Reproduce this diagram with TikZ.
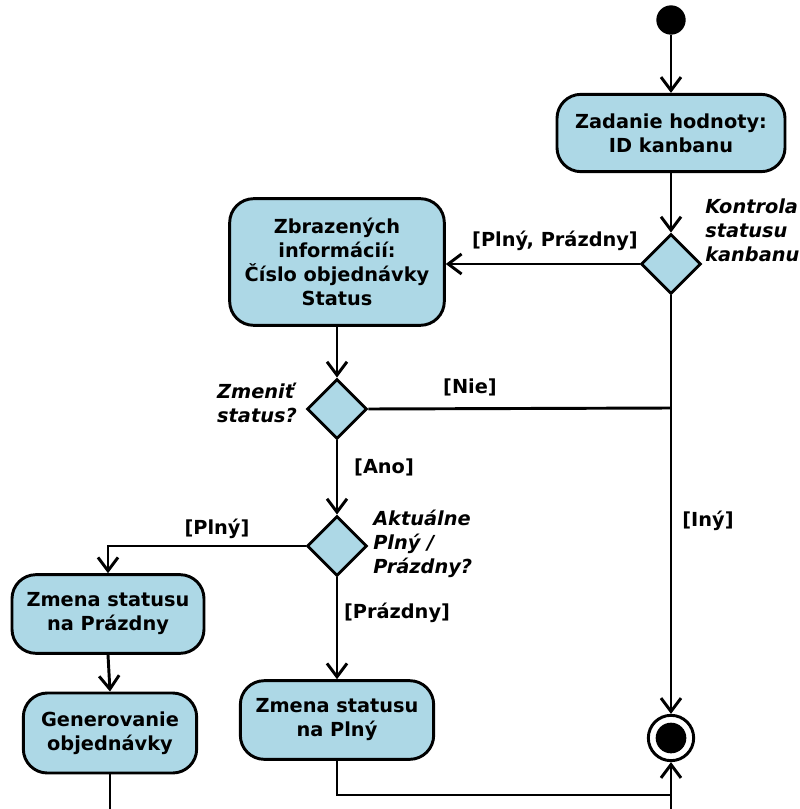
\documentclass[tikz,border=0pt]{standalone}
\usepackage{fontspec}
\setmainfont{DejaVu Sans}
\usetikzlibrary{positioning,calc,arrows.meta,shapes.geometric}
\tikzset{>={Straight Barb[length=10pt,width=15pt]}}
\definecolor{actblue}{RGB}{173,216,230}
\tikzset{
  activity/.style={draw,fill=actblue,line width=2.2pt,rounded corners=18pt,align=center,
    font=\fontsize{14.5}{18}\selectfont\bfseries,inner sep=0pt},
  decision/.style={draw,fill=actblue,line width=2.2pt,diamond,minimum width=45pt,
    minimum height=45pt,inner sep=0pt},
  guard/.style={font=\fontsize{14.5}{18}\selectfont\bfseries,inner sep=0pt},
  question/.style={font=\fontsize{14.5}{18}\selectfont\bfseries\itshape,inner sep=0pt},
  flow/.style={line width=2.2pt}
}

\begin{document}
\begin{tikzpicture}[x=0.75pt,y=-0.75pt]
\useasboundingbox (0,0) rectangle (799,809);
\clip (0,0) rectangle (799,809);
% Pixel grid, y downwards

% Start and end
\node [circle,fill=black,minimum size=22pt,inner sep=0pt] (start) at (671,20) {};
\node [circle,draw,fill=white,line width=2.2pt,minimum size=34pt,inner sep=0pt] (end) at (671,738) {};
\fill (end) circle (11.5pt);

% Activities
\node [activity,minimum width=171pt,minimum height=58pt] (zadanie) at (671,133)
  {Zadanie hodnoty:\\ ID kanbanu};
\node [activity,minimum width=161pt,minimum height=95pt] (info) at (337,262)
  {Zbrazených\\ informácií:\\ Číslo objednávky\\ Status};
\node [activity,minimum width=144pt,minimum height=59pt] (prazdny) at (108,614)
  {Zmena statusu\\ na Prázdny};
\node [activity,minimum width=130pt,minimum height=60pt] (gen) at (110,733)
  {Generovanie\\ objednávky};
\node [activity,minimum width=145pt,minimum height=59pt] (plny) at (337,720)
  {Zmena statusu\\ na Plný};

% Decisions
\node [decision] (kontrola) at (671,264) {};
\node [decision] (zmenit) at (337,409) {};
\node [decision] (aktualne) at (337,546) {};

\node [question,anchor=west,align=left] at (705,230) {Kontrola\\ statusu\\ kanbanu};
\node [question,anchor=east,align=left] at (297,403) {Zmeniť\\ status?};
\node [question,anchor=west,align=left] at (373,544) {Aktuálne\\ Plný /\\ Prázdny?};

% Joins
\coordinate (nie) at (671,408);
\coordinate (join) at (671,795);
\coordinate (bot) at (671,830);

% Flows
\draw [flow,->] (start) -- (zadanie);
\draw [flow,->] (zadanie) -- (kontrola);
\draw [flow,->] (kontrola.west) -- (kontrola.west -| info.east);
\draw [flow,->] (kontrola) -- (end);
\draw [flow,->] (info) -- (zmenit);
\draw [flow] (zmenit.east) -- (nie);
\draw [flow,->] (zmenit) -- (aktualne);
\draw [flow,->] (aktualne.west) -| (prazdny.north);
\draw [flow,->] (aktualne) -- (plny);
\draw [flow,->] (prazdny.south) -- (gen.north);
\draw [flow] (plny.south) |- (join);
\draw [flow] (gen.south) |- (bot);
\draw [flow,->] (bot) -- (end);

% Guards
\node [guard] at (555,241) {[Plný, Prázdny]};
\node [guard] at (470,387) {[Nie]};
\node [guard] at (708,521) {[Iný]};
\node [guard] at (384,467) {[Ano]};
\node [guard] at (217,529) {[Plný]};
\node [guard] at (397,613) {[Prázdny]};

\end{tikzpicture}
\end{document}
